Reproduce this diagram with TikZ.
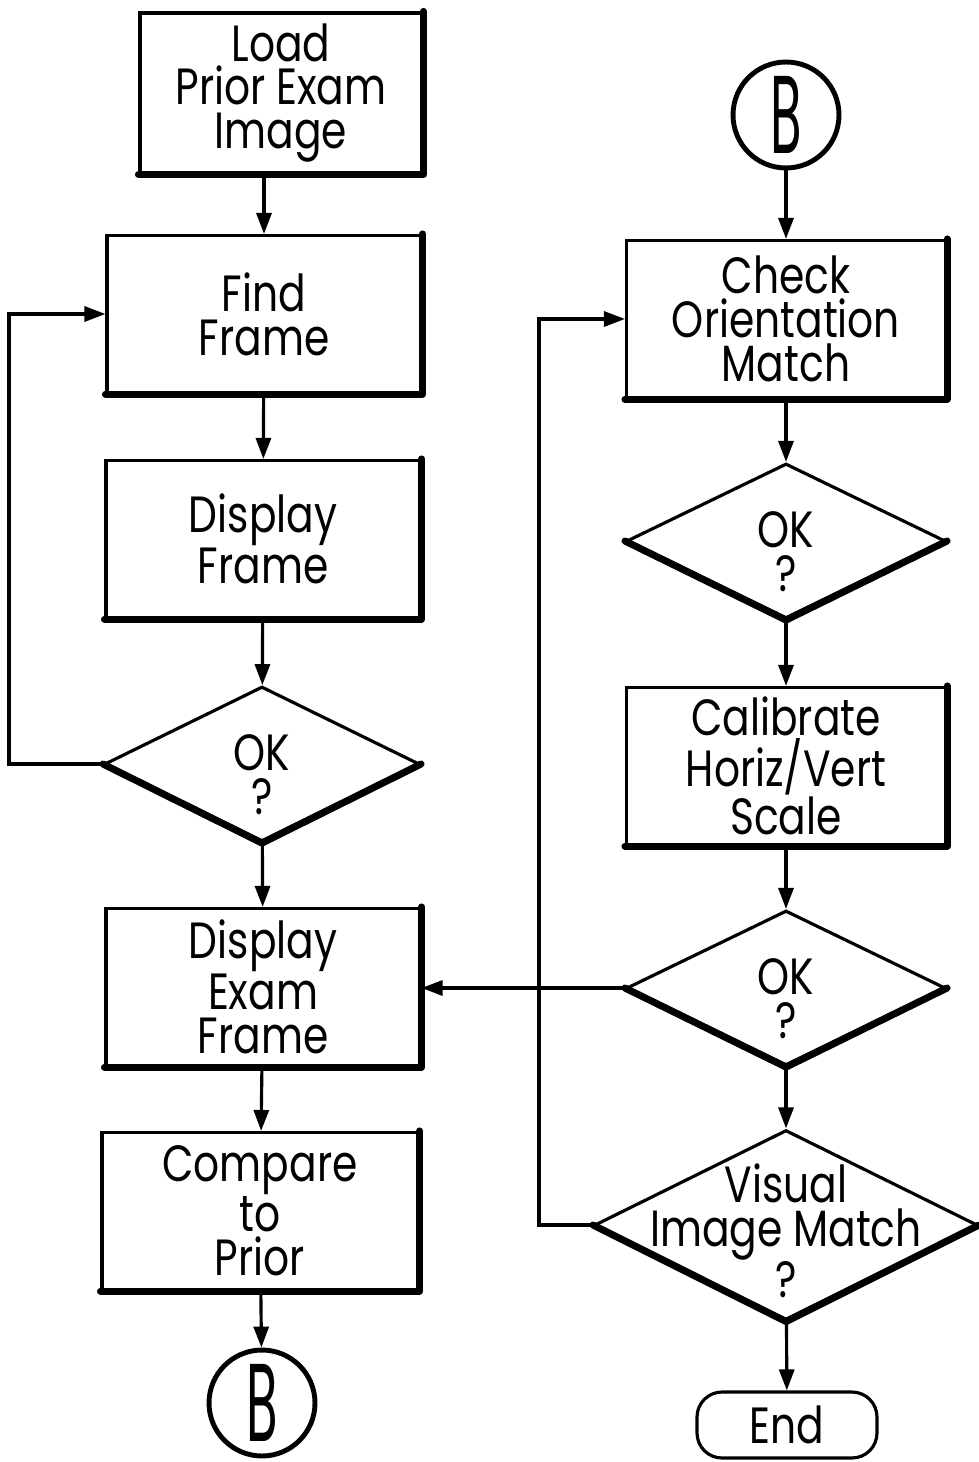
\documentclass[tikz,border=0pt]{standalone}
\usepackage{fontspec}
\setmainfont{Poppins}[FakeStretch=0.8]
\usetikzlibrary{shapes.geometric,arrows.meta}

\tikzset{
  every node/.style={font=\fontsize{29}{25}\selectfont},
  box/.style={draw, line width=1.8pt, minimum width=6.28cm, minimum height=3.14cm, align=center, inner sep=0pt},
  decision/.style={draw, diamond, line width=1.8pt, minimum width=6.3cm, minimum height=3.1cm, inner sep=0pt},
  dtext/.style={align=center, inner sep=0pt, yshift=-0.22cm},
  joint/.style={draw, circle, line width=2.8pt, minimum size=2.12cm, inner sep=0pt},
  heavy/.style={line width=4pt, line cap=round, line join=round},
  arr/.style={line width=1.8pt, -{Triangle[length=0.42cm,width=0.3cm]}}
}
\newcommand{\bigB}{\scalebox{0.58}[1]{\fontsize{63}{63}\selectfont B}}

\begin{document}
\begin{tikzpicture}[x=0.02cm, y=-0.02cm]
    \useasboundingbox (0,0) rectangle (979,1462);

    % left column
    \node[box, minimum width=5.64cm, minimum height=3.2cm] (load) at (281,93) {Load\\Prior Exam\\Image};
    \node[box] (find) at (264,314) {Find\\Frame};
    \node[box] (dispframe) at (263,539) {Display\\Frame};
    \node[decision] (ok1) at (262,764) {};
    \node[dtext] (ok1t) at (ok1) {OK\\?};
    \node[box] (dispexam) at (263,987) {Display\\Exam\\Frame};
    \node[box, minimum width=6.32cm] (compare) at (260,1211) {Compare\\to\\Prior};
    \node[joint] (b1) at (262,1403) {\bigB};

    % right column
    \node[joint] (b2) at (786,115) {\bigB};
    \node[box, minimum width=6.38cm] (check) at (786,319) {Check\\Orientation\\Match};
    \node[decision, minimum width=6.38cm] (ok2) at (786,541) {};
    \node[dtext] (ok2t) at (ok2) {OK\\?};
    \node[box, minimum width=6.38cm] (calib) at (786,766) {Calibrate\\Horiz/Vert\\Scale};
    \node[decision, minimum width=6.38cm] (ok3) at (786,988) {};
    \node[dtext] (ok3t) at (ok3) {OK\\?};
    \node[decision, minimum width=7.66cm, minimum height=3.8cm] (vis) at (786,1225) {};
    \node[dtext, yshift=0.1cm] (vist) at (vis) {Visual\\Image Match\\?};
    \node[draw, line width=1.8pt, rounded corners=0.5cm, minimum width=3.6cm, minimum height=1.32cm] (stop) at (787,1425) {End};

    % shadowed edges
    \foreach \n in {load,find,dispframe,dispexam,compare,check,calib}
        \draw[heavy] (\n.north east) -- (\n.south east) -- (\n.south west);
    \foreach \n in {ok1,ok2,ok3,vis}
        \draw[heavy] (\n.west) -- (\n.south) -- (\n.east);

    % flow
    \draw[arr] (find.north |- load.south) -- (find.north);
    \draw[arr] (find) -- (dispframe);
    \draw[arr] (dispframe) -- (ok1);
    \draw[arr] (ok1.west) -- ++(-94,0) |- (find.west);
    \draw[arr] (ok1) -- (dispexam);
    \draw[arr] (dispexam) -- (compare);
    \draw[arr] (compare) -- (b1);

    \draw[arr] (b2) -- (check);
    \draw[arr] (check) -- (ok2);
    \draw[arr] (ok2) -- (calib);
    \draw[arr] (calib) -- (ok3);
    \draw[arr] (ok3.west) -- (ok3.west -| dispexam.east);
    \draw[arr] (ok3) -- (vis);
    \draw[arr] (vis.west) -- ++(-54,0) |- (check.west);
    \draw[arr] (vis) -- (stop);
\end{tikzpicture}
\end{document}
